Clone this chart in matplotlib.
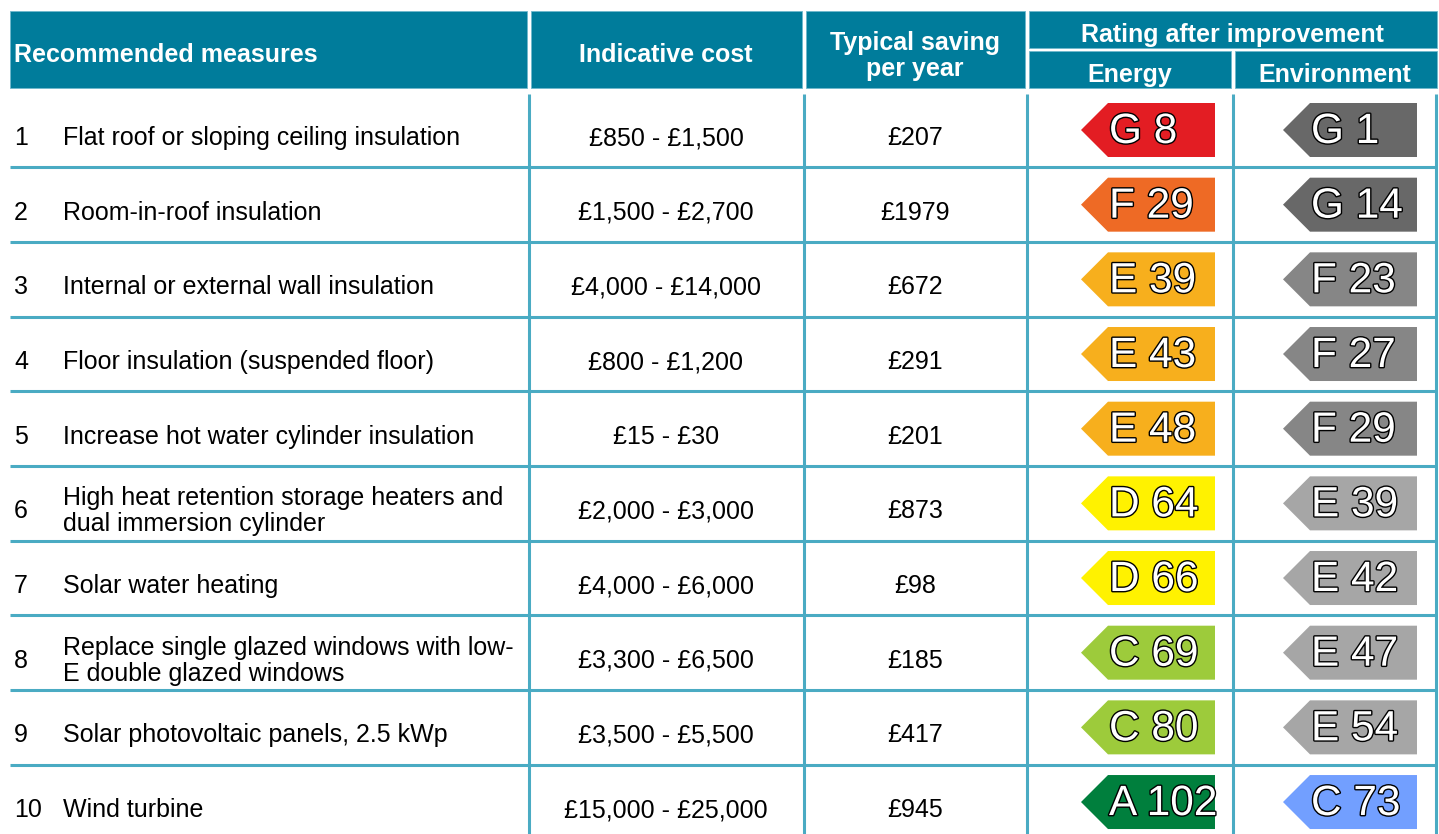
import matplotlib
matplotlib.use("Agg")
import matplotlib.pyplot as plt
from matplotlib.patches import Rectangle, Polygon
import matplotlib.patheffects as pe

plt.rcParams['font.family'] = ['Liberation Sans', 'DejaVu Sans']

# ---- data ----
numbers = ["1", "2", "3", "4", "5", "6", "7", "8", "9", "10"]
measures = [
    "Flat roof or sloping ceiling insulation",
    "Room-in-roof insulation",
    "Internal or external wall insulation",
    "Floor insulation (suspended floor)",
    "Increase hot water cylinder insulation",
    "High heat retention storage heaters and\ndual immersion cylinder",
    "Solar water heating",
    "Replace single glazed windows with low-\nE double glazed windows",
    "Solar photovoltaic panels, 2.5 kWp",
    "Wind turbine",
]
costs = ["£850 - £1,500", "£1,500 - £2,700", "£4,000 - £14,000", "£800 - £1,200",
         "£15 - £30", "£2,000 - £3,000", "£4,000 - £6,000", "£3,300 - £6,500",
         "£3,500 - £5,500", "£15,000 - £25,000"]
savings = ["£207", "£1979", "£672", "£291", "£201", "£873", "£98", "£185", "£417", "£945"]
energy_band = ["G", "F", "E", "E", "E", "D", "D", "C", "C", "A"]
energy_value = [8, 29, 39, 43, 48, 64, 66, 69, 80, 102]
env_band = ["G", "G", "F", "F", "F", "E", "E", "E", "E", "C"]
env_value = [1, 14, 23, 27, 29, 39, 42, 47, 54, 73]

header_cols = ["Recommended measures", "Indicative cost", "Typical saving\nper year"]
rating_header = "Rating after improvement"
rating_sub = ["Energy", "Environment"]

# ---- style ----
energy_colors = {"A": "#007f3d", "B": "#2c9f29", "C": "#9dcb3b", "D": "#fff200",
                 "E": "#f7af1d", "F": "#ee6a25", "G": "#e31d23"}
env_colors = {"A": "#cfe2f3", "B": "#9fc5e8", "C": "#729fff", "D": "#bdbdbd",
              "E": "#a6a6a6", "F": "#868686", "G": "#686868"}
HEAD = "#007c9b"
GRID = "#4aabc3"

W, H = 1439, 834
fig = plt.figure(figsize=(W / 100, H / 100), dpi=100)
ax = fig.add_axes([0, 0, 1, 1])
ax.set_xlim(0, W)
ax.set_ylim(H, 0)
ax.axis("off")

# header boxes
def hbox(x0, x1, y0, y1):
    ax.add_patch(Rectangle((x0, y0), x1 - x0, y1 - y0, facecolor=HEAD,
                           edgecolor="#6fb8cc", linewidth=0.6))

hbox(10, 527, 11, 88)
hbox(531, 802, 11, 88)
hbox(806, 1025, 11, 88)
hbox(1029, 1437, 11, 48)
hbox(1029, 1231, 51, 88)
hbox(1235, 1437, 51, 88)

fs = 18
hkw = dict(color="white", fontweight="bold", fontsize=fs)
ax.text(14, 55, header_cols[0], ha="left", va="center", **hkw)
ax.text(666, 55, header_cols[1], ha="center", va="center", **hkw)
ax.text(915, 56, header_cols[2], ha="center", va="center", linespacing=1.08, **hkw)
ax.text(1232, 35, rating_header, ha="center", va="center", **hkw)
ax.text(1130, 75, rating_sub[0], ha="center", va="center", **hkw)
ax.text(1335, 75, rating_sub[1], ha="center", va="center", **hkw)

# grid
row_h = 74.67
c0 = 130.0
for i in range(len(numbers)):
    yb = c0 + row_h / 2 + i * row_h
    ax.plot([10, 1437], [yb, yb], color=GRID, lw=2.2, solid_capstyle="butt")
for xv in [529, 803.5, 1027, 1232.5, 1435.5]:
    ax.plot([xv, xv], [94, H + 5], color=GRID, lw=2.2, solid_capstyle="butt")

# rows
badge_h = 54
tip = 27
for i in range(len(numbers)):
    yc = c0 + i * row_h
    ty = yc + 8
    ax.text(14, ty, numbers[i], ha="left", va="center", fontsize=fs, color="black")
    ax.text(63, ty, measures[i], ha="left", va="center", fontsize=fs, color="black",
            linespacing=1.12)
    ax.text(666, ty, costs[i], ha="center", va="center", fontsize=fs, color="black")
    ax.text(915, ty, savings[i], ha="center", va="center", fontsize=fs, color="black")

    for (xr0, xr1, band, val, cmap) in [
        (1108, 1215, energy_band[i], energy_value[i], energy_colors),
        (1310, 1417, env_band[i], env_value[i], env_colors),
    ]:
        y0, y1 = yc - badge_h / 2, yc + badge_h / 2
        poly = Polygon([(xr0 - tip, yc), (xr0, y0), (xr1, y0), (xr1, y1), (xr0, y1)],
                       closed=True, facecolor=cmap[band], edgecolor="none")
        ax.add_patch(poly)
        t = ax.text(xr0 + 1, yc + 2, f"{band} {val}", ha="left", va="center",
                    fontsize=30.5, color="white")
        t.set_path_effects([pe.withStroke(linewidth=2.0, foreground="black")])

fig.savefig("out.png", dpi=100, facecolor="white")
